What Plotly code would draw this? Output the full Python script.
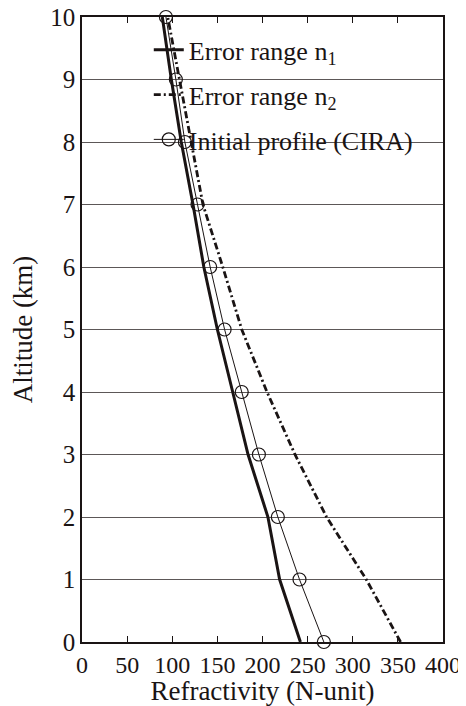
import plotly.graph_objects as go

altitude = [0, 1, 2, 3, 4, 5, 6, 7, 8, 9, 10]
n1_error = [242, 219, 206, 184, 167, 150, 135, 123, 110, 99, 89]
n2_error = [353, 315, 271, 236, 205, 177, 156, 134, 121, 108, 95]
cira_profile = [268, 241, 217, 196, 177, 158, 142, 128, 114, 104, 93]

x_ticks = [0, 50, 100, 150, 200, 250, 300, 350, 400]
y_ticks = [0, 1, 2, 3, 4, 5, 6, 7, 8, 9, 10]

FONT = "Liberation Serif"
INK = "#1a1414"

fig = go.Figure()
fig.add_trace(go.Scatter(
    x=n1_error, y=altitude, mode="lines", name="Error range n<sub>1</sub>",
    line=dict(color=INK, width=3), legendgroup="a", cliponaxis=False))
fig.add_trace(go.Scatter(
    x=n2_error, y=altitude, mode="lines", name="Error range n<sub>2</sub>",
    line=dict(color=INK, width=2.8, dash="7px,3px,2px,3px"), legendgroup="b",
    cliponaxis=False))
fig.add_trace(go.Scatter(
    x=cira_profile, y=altitude, mode="lines+markers", name="Initial profile (CIRA)",
    line=dict(color=INK, width=1),
    marker=dict(symbol="circle-open", size=13, color=INK, line=dict(width=1.2)),
    legendgroup="c", cliponaxis=False))

# page body has an 8px default margin, so the figure is sized to fit inside it
fig.update_layout(
    width=458, height=698,
    margin=dict(l=74, r=23, t=9, b=64, autoexpand=False),
    paper_bgcolor="white", plot_bgcolor="white",
    font=dict(family=FONT, size=25, color=INK),
    showlegend=True,
    legend=dict(x=0.185, y=0.985, xanchor="left", yanchor="top",
                bgcolor="rgba(0,0,0,0)", font=dict(family=FONT, size=26, color=INK),
                traceorder="grouped", tracegroupgap=8),
    xaxis=dict(range=[0, 400], tickvals=x_ticks, ticks="inside", ticklen=6,
               tickcolor=INK, showline=True, linecolor=INK, linewidth=1.5,
               mirror="ticks", showgrid=False, zeroline=False, automargin=False,
               ticklabeloverflow="allow",
               tickfont=dict(family=FONT, size=24, color=INK),
               title=dict(text="Refractivity (N-unit)", font=dict(family=FONT, size=27, color=INK),
                          standoff=2)),
    yaxis=dict(range=[0, 10], tickvals=y_ticks, ticks="", showline=True,
               linecolor=INK, linewidth=1.5, mirror=True, automargin=False,
               showgrid=True, gridcolor="#5c5757", gridwidth=1.2, zeroline=False,
               ticklabeloverflow="allow",
               tickfont=dict(family=FONT, size=25, color=INK),
               title=dict(text="Altitude (km)", font=dict(family=FONT, size=27, color=INK),
                          standoff=22)),
)

fig.write_html("out.html")
